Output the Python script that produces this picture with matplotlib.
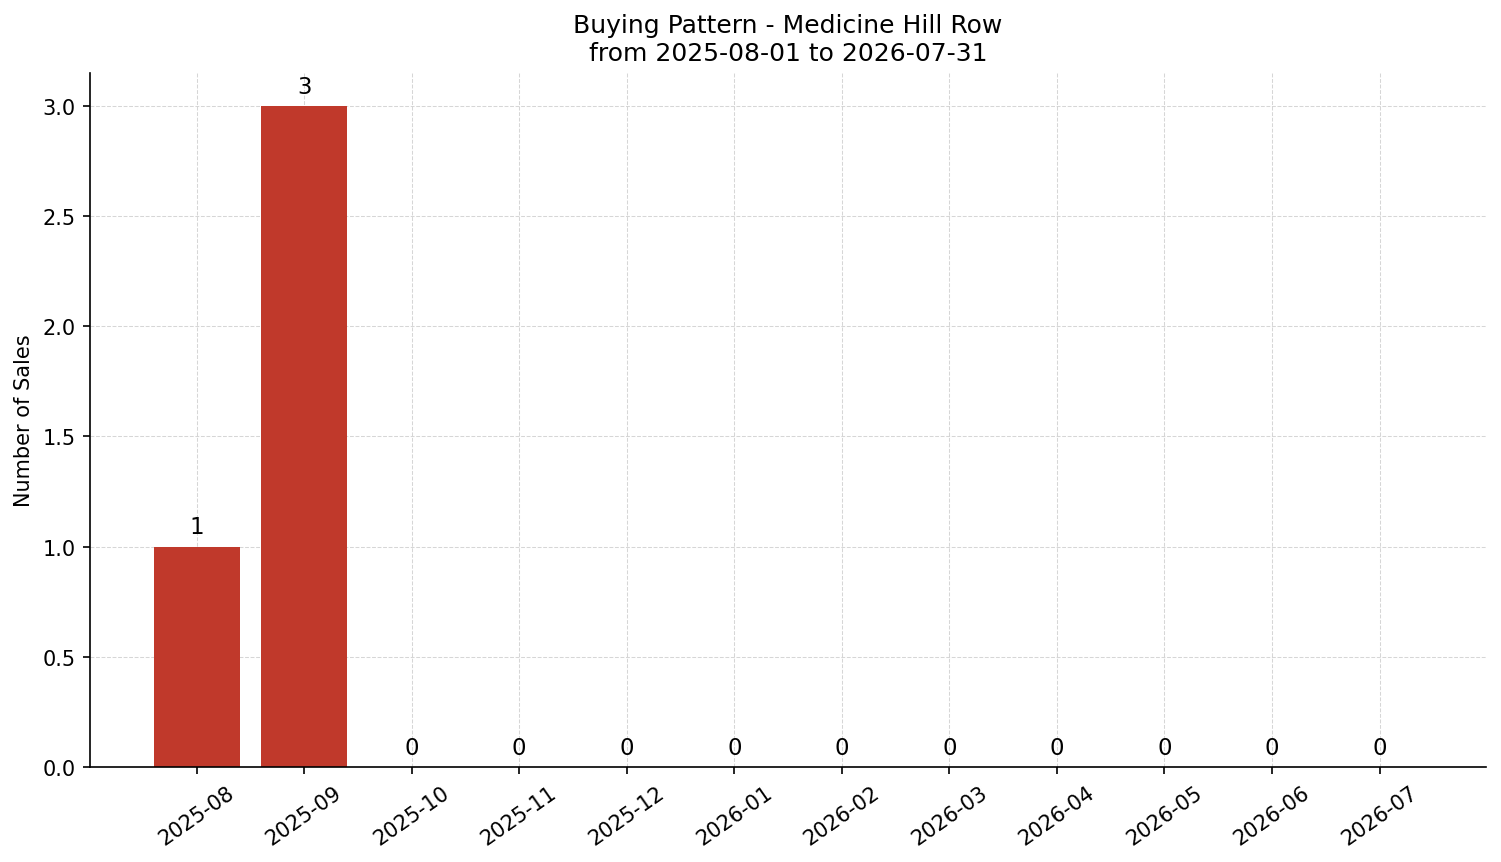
import matplotlib
matplotlib.use("Agg")
import matplotlib.pyplot as plt

months = ["2025-08", "2025-09", "2025-10", "2025-11", "2025-12", "2026-01",
          "2026-02", "2026-03", "2026-04", "2026-05", "2026-06", "2026-07"]
sales = [1, 3, 0, 0, 0, 0, 0, 0, 0, 0, 0, 0]

fig, ax = plt.subplots(figsize=(10.007, 5.753), dpi=150)
x = list(range(len(months)))
bars = ax.bar(x, sales, color="#c0392b", width=0.8, zorder=2)
ax.bar_label(bars, labels=[str(v) for v in sales], padding=4, fontsize=11)
ax.set_xticks(x)
ax.set_xticklabels(months, rotation=35, ha="center")
ax.set_ylabel("Number of Sales")
ax.set_title("Buying Pattern - Medicine Hill Row\nfrom 2025-08-01 to 2026-07-31")
ax.grid(True, linestyle="--", linewidth=0.5, color="#cccccc", alpha=0.8, zorder=0)
ax.set_axisbelow(True)
ax.spines["top"].set_visible(False)
ax.spines["right"].set_visible(False)
ax.set_ylim(0, 3.15)
fig.subplots_adjust(left=0.06, right=0.99, top=0.9145, bottom=0.11)
fig.savefig("out.png", dpi=150)
